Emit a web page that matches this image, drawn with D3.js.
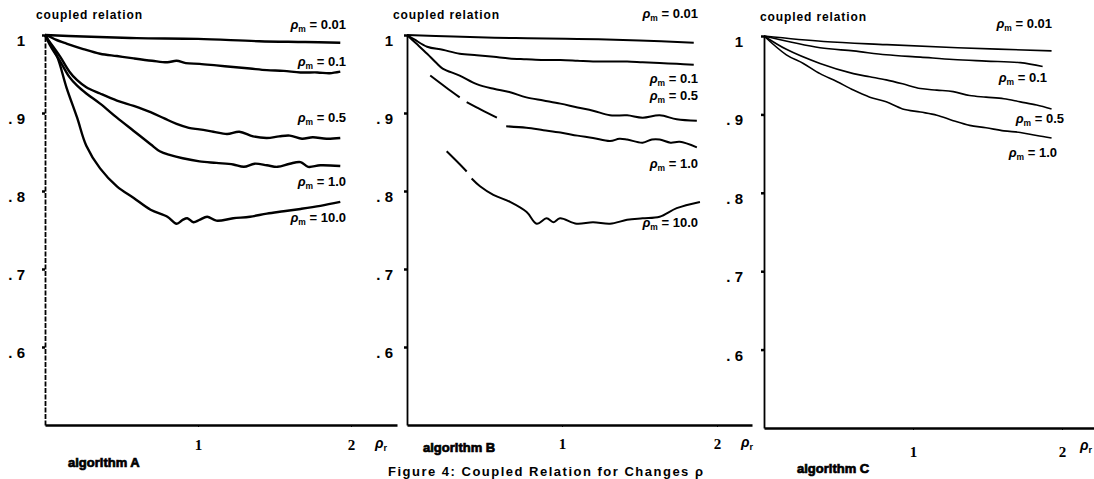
<!DOCTYPE html>
<html>
<head>
<meta charset="utf-8">
<script src="https://cdnjs.cloudflare.com/ajax/libs/d3/7.8.5/d3.min.js"></script>
<style>
body { margin: 0; background: #fff; }
svg { display: block; font-family: "Liberation Sans", Arial, sans-serif; }
</style>
</head>
<body>
<svg width="1094" height="479"></svg>
<script>
// values, [rho_r, coupled relation]; null = gap in the print
var rhoLabels = ["0.01", "0.1", "0.5", "1.0", "10.0"];
var yTicks = [0.6, 0.7, 0.8, 0.9, 1.0];
var xTicks = [1, 2];
var algNames = ["algorithm A", "algorithm B", "algorithm C"];

var algA_001 = [[0,1.0],[0.25,0.998],[0.6,0.996],[1.0,0.995],[1.4,0.992],[1.7,0.991],[1.93,0.990]];
var algA_01 = [[0,1.0],[0.03,0.998],[0.07,0.994],[0.14,0.989],[0.25,0.982],[0.36,0.976],[0.47,0.973],[0.58,0.970],[0.7,0.967],[0.8,0.965],[0.86,0.967],[0.92,0.964],[1.01,0.963],[1.12,0.961],[1.23,0.959],[1.34,0.957],[1.45,0.955],[1.56,0.954],[1.67,0.952],[1.78,0.952],[1.86,0.951],[1.93,0.953]];
var algA_05 = [[0,1.0],[0.02,0.994],[0.05,0.986],[0.10,0.972],[0.16,0.953],[0.21,0.942],[0.27,0.933],[0.36,0.925],[0.47,0.916],[0.58,0.909],[0.69,0.901],[0.78,0.893],[0.86,0.886],[0.94,0.881],[1.01,0.879],[1.1,0.876],[1.19,0.873],[1.27,0.876],[1.36,0.870],[1.45,0.868],[1.53,0.870],[1.6,0.871],[1.68,0.867],[1.75,0.869],[1.84,0.867],[1.93,0.868]];
var algA_1 = [[0,1.0],[0.03,0.988],[0.06,0.978],[0.10,0.966],[0.16,0.946],[0.21,0.935],[0.27,0.925],[0.36,0.912],[0.47,0.894],[0.58,0.877],[0.69,0.860],[0.75,0.851],[0.82,0.846],[0.90,0.842],[1.01,0.838],[1.12,0.836],[1.23,0.834],[1.3,0.831],[1.37,0.835],[1.45,0.833],[1.52,0.831],[1.6,0.835],[1.67,0.837],[1.72,0.831],[1.8,0.833],[1.93,0.832]];
var algA_10 = [[0,1.0],[0.03,0.990],[0.08,0.972],[0.14,0.933],[0.21,0.894],[0.27,0.858],[0.36,0.829],[0.47,0.806],[0.58,0.791],[0.69,0.776],[0.8,0.767],[0.86,0.758],[0.9,0.763],[0.93,0.765],[0.97,0.760],[1.01,0.763],[1.06,0.767],[1.12,0.762],[1.23,0.765],[1.34,0.767],[1.45,0.771],[1.56,0.774],[1.67,0.777],[1.8,0.781],[1.93,0.786]];

var algB_001 = [[0,1.0],[0.3,0.998],[0.7,0.996],[1.1,0.995],[1.5,0.993],[1.85,0.990]];
var algB_01 = [[0,1.0],[0.05,0.994],[0.13,0.985],[0.23,0.981],[0.34,0.976],[0.45,0.974],[0.56,0.972],[0.66,0.970],[0.77,0.969],[0.88,0.968],[0.99,0.968],[1.1,0.967],[1.2,0.966],[1.31,0.966],[1.42,0.966],[1.52,0.965],[1.63,0.964],[1.74,0.963],[1.85,0.962]];
var algB_05 = [[0,1.0],[0.06,0.989],[0.13,0.976],[0.19,0.964],[0.23,0.957],[0.34,0.948],[0.45,0.937],[0.56,0.931],[0.66,0.927],[0.77,0.920],[0.88,0.916],[0.99,0.912],[1.1,0.907],[1.2,0.903],[1.31,0.897],[1.42,0.897],[1.52,0.894],[1.63,0.897],[1.74,0.892],[1.87,0.890]];
var algB_1 = [[0.15,0.948],[0.25,0.933],[0.34,0.920],null,[0.385,0.914],[0.48,0.904],[0.58,0.894],null,[0.64,0.883],[0.77,0.881],[0.88,0.878],[0.99,0.875],[1.1,0.871],[1.2,0.868],[1.31,0.864],[1.37,0.867],[1.42,0.866],[1.52,0.862],[1.58,0.866],[1.63,0.866],[1.7,0.862],[1.76,0.863],[1.87,0.856]];
var algB_10 = [[0.256,0.851],[0.342,0.834],[0.385,0.825],null,[0.417,0.816],[0.471,0.806],[0.557,0.795],[0.665,0.786],[0.772,0.773],[0.837,0.758],[0.901,0.765],[0.944,0.760],[0.987,0.765],[1.095,0.758],[1.2,0.760],[1.31,0.758],[1.42,0.763],[1.52,0.765],[1.63,0.767],[1.74,0.778],[1.89,0.786]];

var algC_001 = [[0,1.0],[0.4,0.993],[0.82,0.989],[1.3,0.985],[1.93,0.981]];
var algC_01 = [[0,1.0],[0.376,0.985],[0.6,0.981],[0.82,0.976],[1.05,0.973],[1.27,0.970],[1.49,0.968],[1.72,0.966],[1.87,0.961]];
var algC_05 = [[0,1.0],[0.15,0.983],[0.376,0.965],[0.6,0.952],[0.71,0.948],[0.82,0.944],[0.93,0.939],[1.05,0.933],[1.16,0.931],[1.27,0.929],[1.38,0.924],[1.49,0.922],[1.61,0.920],[1.72,0.916],[1.83,0.912],[1.93,0.907]];
var algC_1 = [[0,1.0],[0.15,0.976],[0.264,0.965],[0.376,0.952],[0.488,0.942],[0.6,0.931],[0.71,0.922],[0.82,0.916],[0.93,0.907],[1.05,0.903],[1.16,0.899],[1.27,0.892],[1.38,0.886],[1.49,0.883],[1.61,0.879],[1.72,0.877],[1.83,0.873],[1.93,0.870]];

// layout of the three panels (pixels)
var panels = [
	{ curves: [algA_001, algA_01, algA_05, algA_1, algA_10], x0: 45, unit: 153, xEnd: 397, yBase: 425, yTop: 35,
	  width: 2.4, yPad: 17, xPad: 12, labEnd: 346, labY: [29, 66, 122, 186, 222],
	  title: [36, 19], rho: [375, 448], alg: [68, 467] },
	{ curves: [algB_001, algB_01, algB_05, algB_1, algB_10], x0: 407, unit: 155, xEnd: 752, yBase: 425, yTop: 35,
	  width: 2.0, yPad: 11, xPad: 11, labEnd: 698, labY: [18, 83, 100, 168, 227],
	  title: [393, 19], rho: [741, 447], alg: [423, 452] },
	{ curves: [algC_001, algC_01, algC_05, algC_1], x0: 764, unit: 149, xEnd: 1094, yBase: 428, yTop: 36,
	  width: 1.6, yPad: 18, xPad: 16, labEnd: [1052, 1047, 1064, 1057], labY: [28, 82, 123, 157],
	  title: [760, 21], rho: [1080, 450], alg: [797, 473] }
];

var svg = d3.select("svg");

function rhoText(sel, sub, rest, size) {
	sel.append("tspan").attr("font-style", "italic").text("\u03c1");
	sel.append("tspan").attr("font-size", size * 0.65).attr("dy", 3).text(sub);
	if (rest) sel.append("tspan").attr("dy", -3).text(rest);
}

panels.forEach(function(p, pi) {
	var x = d3.scaleLinear().domain([0, (p.xEnd - p.x0) / p.unit]).range([p.x0, p.xEnd]);
	var y = d3.scaleLinear().domain([0.5, 1]).range([p.yBase, p.yTop]);

	var g = svg.append("g");

	var xAxis = g.append("g")
		.attr("transform", "translate(0," + p.yBase + ")")
		.call(d3.axisBottom(x).tickValues(xTicks).tickSize(2).tickSizeOuter(0)
			.tickPadding(p.xPad).tickFormat(d3.format("d")));
	xAxis.select(".domain").attr("stroke-width", 2.6);
	xAxis.selectAll("text").attr("font-size", 15).attr("font-family", "Liberation Serif, serif").attr("font-weight", "bold");

	var yAxis = g.append("g")
		.attr("transform", "translate(" + p.x0 + ",0)")
		.call(d3.axisLeft(y).tickValues(yTicks).tickSize(3).tickSizeOuter(0)
			.tickPadding(p.yPad)
			.tickFormat(function(d) { return d === 1 ? "1" : ". " + Math.round(d * 10); }));
	yAxis.select(".domain").attr("stroke-width", 1.8).attr("stroke-dasharray", pi === 0 ? "5,1.5" : null);
	yAxis.selectAll(".tick line").attr("stroke-width", 2.5);
	yAxis.selectAll("text").attr("font-size", 15).attr("dy", "0.7em").attr("font-weight", "bold");

	var line = d3.line()
		.defined(function(d) { return d != null; })
		.x(function(d) { return x(d[0]); })
		.y(function(d) { return y(d[1]); })
		.curve(d3.curveCatmullRom.alpha(0.5));

	g.selectAll(".curve")
		.data(p.curves)
		.enter().append("path")
		.attr("class", "curve")
		.attr("d", line)
		.attr("fill", "none")
		.attr("stroke", "#000")
		.attr("stroke-width", p.width)
		.attr("stroke-linejoin", "round");

	p.curves.forEach(function(c, i) {
		var t = g.append("text")
			.attr("x", Array.isArray(p.labEnd) ? p.labEnd[i] : p.labEnd)
			.attr("y", p.labY[i])
			.attr("text-anchor", "end")
			.attr("font-size", 13)
			.attr("font-weight", "bold");
		rhoText(t, "m", " = " + rhoLabels[i], 13);
	});

	g.append("text")
		.attr("x", p.title[0]).attr("y", p.title[1])
		.attr("font-size", 12).attr("font-weight", "bold")
		.attr("textLength", 106)
		.text("coupled relation");

	var r = g.append("text")
		.attr("x", p.rho[0]).attr("y", p.rho[1])
		.attr("font-size", 14).attr("font-weight", "bold");
	rhoText(r, "r", null, 14);

	g.append("text")
		.attr("x", p.alg[0]).attr("y", p.alg[1])
		.attr("font-size", 13).attr("font-weight", "bold")
		.attr("stroke", "#000").attr("stroke-width", 0.7)
		.text(algNames[pi]);
});

svg.append("text")
	.attr("x", 388).attr("y", 476)
	.attr("font-size", 13).attr("font-weight", "bold")
	.attr("textLength", 315)
	.text("Figure 4: Coupled Relation for Changes \u03c1");
</script>
</body>
</html>
